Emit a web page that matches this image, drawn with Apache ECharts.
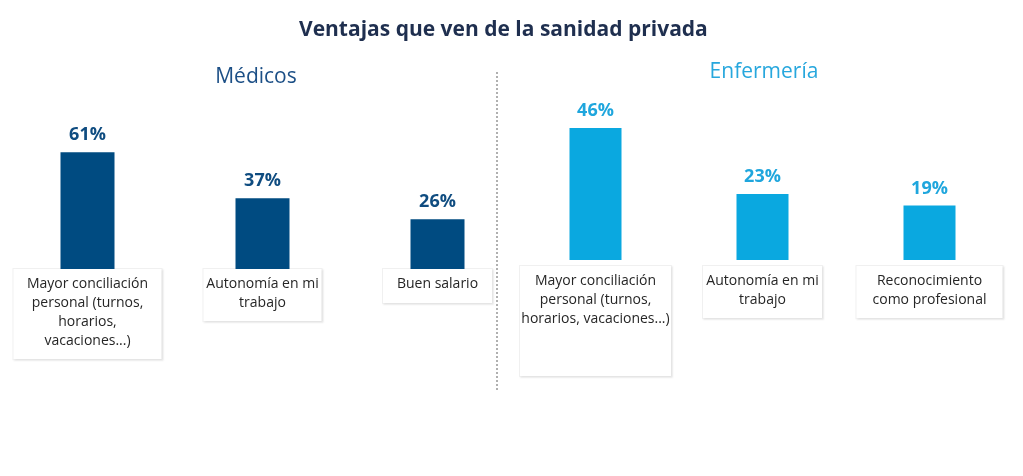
<!DOCTYPE html>
<html>
<head>
<meta charset="utf-8">
<script src="https://cdn.jsdelivr.net/npm/echarts@6/dist/echarts.min.js"></script>
<style>
html,body{margin:0;padding:0;background:#fff;}
#c{width:1023px;height:476px;}
</style>
</head>
<body>
<div id="c"></div>
<script>
// Data
const chartTitle = 'Ventajas que ven de la sanidad privada';
const groupNames = ['Médicos', 'Enfermería'];
const medicosCategories = ['Mayor conciliación\npersonal (turnos,\nhorarios,\nvacaciones...)', 'Autonomía en mi\ntrabajo', 'Buen salario'];
const medicosValues = [61, 37, 26];
const enfermeriaCategories = ['Mayor conciliación\npersonal (turnos,\nhorarios, vacaciones...)', 'Autonomía en mi\ntrabajo', 'Reconocimiento\ncomo profesional'];
const enfermeriaValues = [46, 23, 19];

const FONT = '"Open Sans", "Noto Sans", sans-serif';
const DARK = '#004b81';
const LIGHT = '#0aa8e0';

// per-label box styles (widths / paddings)
const medicosBox = [
  {width: 138, padding: [6, 5, 8, 5]},
  {width: 108, padding: [6, 5, 8, 5]},
  {width: 99, padding: [6, 5, 9, 5]}
];
const enfermeriaBox = [
  {width: 141, padding: [6, 5, 47, 5]},
  {width: 109, padding: [6, 5, 8, 5]},
  {width: 136, padding: [6, 5, 8, 5]}
];

function catItems(cats, boxes) {
  return cats.map((c, i) => ({
    value: c,
    textStyle: Object.assign({
      backgroundColor: '#fff',
      borderColor: '#f1f1f1',
      borderWidth: 1,
      shadowColor: 'rgba(0,0,0,0.07)',
      shadowBlur: 2,
      shadowOffsetX: 1,
      shadowOffsetY: 1,
      align: 'center',
      overflow: 'none'
    }, boxes[i])
  }));
}

const chart = echarts.init(document.getElementById('c'));
const baseLabel = {
  interval: 0,
  fontFamily: FONT,
  fontSize: 14,
  lineHeight: 19,
  color: '#262626',
  verticalAlign: 'top'
};
chart.setOption({
  animation: false,
  title: {
    text: chartTitle,
    left: 294,
    top: 15,
    textStyle: {fontFamily: FONT, fontWeight: 'bold', fontSize: 21, color: '#1f2f4f'}
  },
  graphic: [
    {type: 'text', x: 256, y: 77, style: {text: groupNames[0], fill: '#1c4f86', font: '21px ' + FONT, align: 'center', verticalAlign: 'middle'}},
    {type: 'text', x: 764, y: 72, style: {text: groupNames[1], fill: '#27a7dd', font: '21px ' + FONT, align: 'center', verticalAlign: 'middle'}},
    {type: 'line', shape: {x1: 497, y1: 72, x2: 497, y2: 392}, style: {stroke: '#b0b0b0', lineWidth: 2, lineDash: [2, 2]}}
  ],
  grid: [
    {left: -3, width: 528, top: 135, height: 134},
    {left: 512, width: 501, top: 59, height: 201}
  ],
  xAxis: [
    {type: 'category', gridIndex: 0, data: catItems(medicosCategories, medicosBox),
      axisLine: {show: false}, axisTick: {show: false},
      axisLabel: Object.assign({margin: 0}, baseLabel)},
    {type: 'category', gridIndex: 1, data: catItems(enfermeriaCategories, enfermeriaBox),
      axisLine: {show: false}, axisTick: {show: false},
      axisLabel: Object.assign({margin: 6}, baseLabel)}
  ],
  yAxis: [
    {type: 'value', gridIndex: 0, min: 0, max: 70, show: false},
    {type: 'value', gridIndex: 1, min: 0, max: 70, show: false}
  ],
  series: [
    {type: 'bar', xAxisIndex: 0, yAxisIndex: 0, data: medicosValues, barWidth: 54,
      itemStyle: {color: DARK},
      label: {show: true, position: 'top', distance: 8, formatter: '{c}%', fontFamily: FONT, fontWeight: 'bold', fontSize: 18, color: '#0f4c80'}},
    {type: 'bar', xAxisIndex: 1, yAxisIndex: 1, data: enfermeriaValues, barWidth: 52,
      itemStyle: {color: LIGHT},
      label: {show: true, position: 'top', distance: 8, formatter: '{c}%', fontFamily: FONT, fontWeight: 'bold', fontSize: 18, color: '#1fa6dd'}}
  ]
});
</script>
</body>
</html>
